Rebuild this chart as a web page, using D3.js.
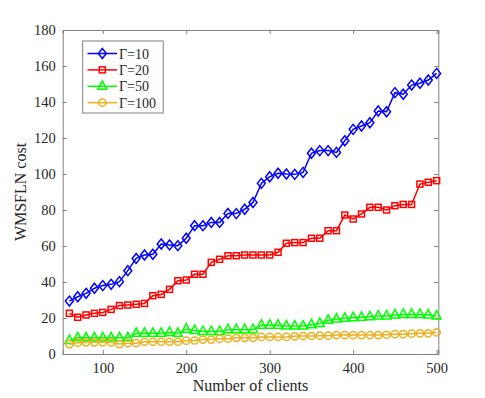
<!DOCTYPE html>
<html><head><meta charset="utf-8">
<script src="https://cdn.jsdelivr.net/npm/d3@7"></script>
<style>body{margin:0;background:#fff}svg{display:block}</style>
</head><body><div id="chart"></div>
<script>
const xValues = d3.range(60, 501, 10);
const seriesNames = ["Γ=10", "Γ=20", "Γ=50", "Γ=100"];
const gamma10 = [29.4,31.8,33.7,36.5,38,38.7,40.2,46.3,53.1,55,55.4,61.1,60.6,60.2,64.3,71.3,71.3,73.1,73.1,78.1,78,80.4,84.2,94.8,98.5,100.4,100,99.8,100.9,111.5,113,113,112,118.5,124.8,126.7,128.5,135,134.6,145.2,144.3,149.4,150.4,152.2,155.9];
const gamma20 = [22.6,20.4,21.7,22.6,23.1,24.8,26.9,27.2,27.6,28.1,32.4,33.1,35.9,40.7,41.1,44.3,44.3,50.9,52.6,54.6,54.6,55,55,55,55,56.5,61.5,61.9,61.9,64.3,64.3,68.5,68.5,77.2,75,77.8,81.5,81.5,80,82.4,83.1,83.1,94.4,95.4,96.3];
const gamma50 = [7.5,9,9,9,9,9,9,9,11.5,11.5,11.5,11.5,12,11.5,13.8,13,12.5,12.5,12.5,13.5,13.5,13.5,13.5,16,16,16,15.5,15.5,15.5,16.3,17,18.7,19.4,19.8,20.2,20.4,20.7,21.1,21.1,21.7,22,22,22,21.7,21.1];
const gamma100 = [5.5,6.3,6.5,6.5,6.5,6.5,5.5,6,6,6.8,6.8,6.8,6.8,6.8,7.4,7.5,8,8,8.5,8.5,9,9,9,9.5,9.5,9.5,9.5,9.8,10,10,10.2,10.2,10.5,10.5,10.5,10.5,10.5,10.5,10.7,11,11,11.3,11.5,11.5,12];
const xTicks = [100, 200, 300, 400, 500];
const yTicks = [0, 20, 40, 60, 80, 100, 120, 140, 160, 180];
const colors = ["#0000ff", "#ff0000", "#00ff00", "#edb120"];
const shapes = ["diamond", "square", "triangle", "circle"];
const allSeries = [gamma10, gamma20, gamma50, gamma100];

const W = 485, H = 398;
const m = {left: 62.7, right: 438.3, top: 30, bottom: 354};
const svg = d3.select("#chart").append("svg").attr("width", W).attr("height", H);
const x = d3.scaleLinear().domain([52, 502]).range([m.left, m.right]);
const y = d3.scaleLinear().domain([0, 180]).range([m.bottom, m.top]);
const font = "'Liberation Serif', 'Times New Roman', serif";
const axisColor = "#808080", textColor = "#262626";

function marker(g, shape, color, cx, cy) {
  if (shape === "diamond") {
    g.append("path").attr("d", `M${cx},${cy-5}L${cx+4},${cy}L${cx},${cy+5}L${cx-4},${cy}Z`)
      .attr("fill", "none").attr("stroke", color).attr("stroke-width", 1.5);
  } else if (shape === "square") {
    g.append("rect").attr("x", cx - 3).attr("y", cy - 3).attr("width", 6).attr("height", 6)
      .attr("fill", "none").attr("stroke", color).attr("stroke-width", 1.5);
  } else if (shape === "triangle") {
    g.append("path").attr("d", `M${cx},${cy-5.5}L${cx+4.5},${cy+3}L${cx-4.5},${cy+3}Z`)
      .attr("fill", "none").attr("stroke", color).attr("stroke-width", 1.5);
  } else {
    g.append("circle").attr("cx", cx).attr("cy", cy).attr("r", 3.6)
      .attr("fill", "none").attr("stroke", color).attr("stroke-width", 1.5);
  }
}

// Axes (box with inward ticks)
const xAxisB = d3.axisBottom(x).tickValues(xTicks).tickSize(-4).tickPadding(9).tickFormat(d3.format("d"));
const xAxisT = d3.axisTop(x).tickValues(xTicks).tickSize(-4).tickFormat("");
const yAxisL = d3.axisLeft(y).tickValues(yTicks).tickSize(-4).tickPadding(7).tickFormat(d3.format("d"));
const yAxisR = d3.axisRight(y).tickValues(yTicks).tickSize(-4).tickFormat("");

function styleAxis(g) {
  g.selectAll("path.domain").attr("stroke", axisColor).attr("stroke-width", 1);
  g.selectAll(".tick line").attr("stroke", axisColor).attr("stroke-width", 1);
  g.selectAll(".tick text").attr("fill", textColor).style("font-family", font).style("font-size", "14.5px");
}
svg.append("g").attr("transform", `translate(0,${m.bottom})`).call(xAxisB).call(styleAxis);
svg.append("g").attr("transform", `translate(0,${m.top})`).call(xAxisT).call(styleAxis);
svg.append("g").attr("transform", `translate(${m.left},0)`).call(yAxisL).call(styleAxis);
svg.append("g").attr("transform", `translate(${m.right},0)`).call(yAxisR).call(styleAxis);

// Series
const plot = svg.append("g");
const line = d3.line().x((d, i) => x(xValues[i])).y(d => y(d));
allSeries.forEach((vals, k) => {
  const g = plot.append("g");
  g.append("path").datum(vals).attr("d", line).attr("fill", "none")
    .attr("stroke", colors[k]).attr("stroke-width", 1.5);
  vals.forEach((v, i) => marker(g, shapes[k], colors[k], x(xValues[i]), y(v)));
});

// Labels
svg.append("text").attr("x", (m.left + m.right) / 2).attr("y", 391).attr("text-anchor", "middle")
  .attr("fill", textColor).style("font-family", font).style("font-size", "16px").text("Number of clients");
svg.append("text").attr("transform", `translate(26,${(m.top + m.bottom) / 2}) rotate(-90)`)
  .attr("text-anchor", "middle").attr("fill", textColor).style("font-family", font).style("font-size", "16px").text("WMSFLN cost");

// Legend
const lg = svg.append("g");
lg.append("rect").attr("x", 82.7).attr("y", 41).attr("width", 80.5).attr("height", 72)
  .attr("fill", "#fff").attr("stroke", axisColor).attr("stroke-width", 1);
seriesNames.forEach((name, k) => {
  const yy = 53.5 + k * 16.4;
  lg.append("line").attr("x1", 87.5).attr("x2", 117).attr("y1", yy).attr("y2", yy)
    .attr("stroke", colors[k]).attr("stroke-width", 1.5);
  marker(lg, shapes[k], colors[k], 102.3, yy);
  lg.append("text").attr("x", 119).attr("y", yy + 5).attr("fill", textColor)
    .style("font-family", font).style("font-size", "14px").text(name);
});
</script></body></html>
